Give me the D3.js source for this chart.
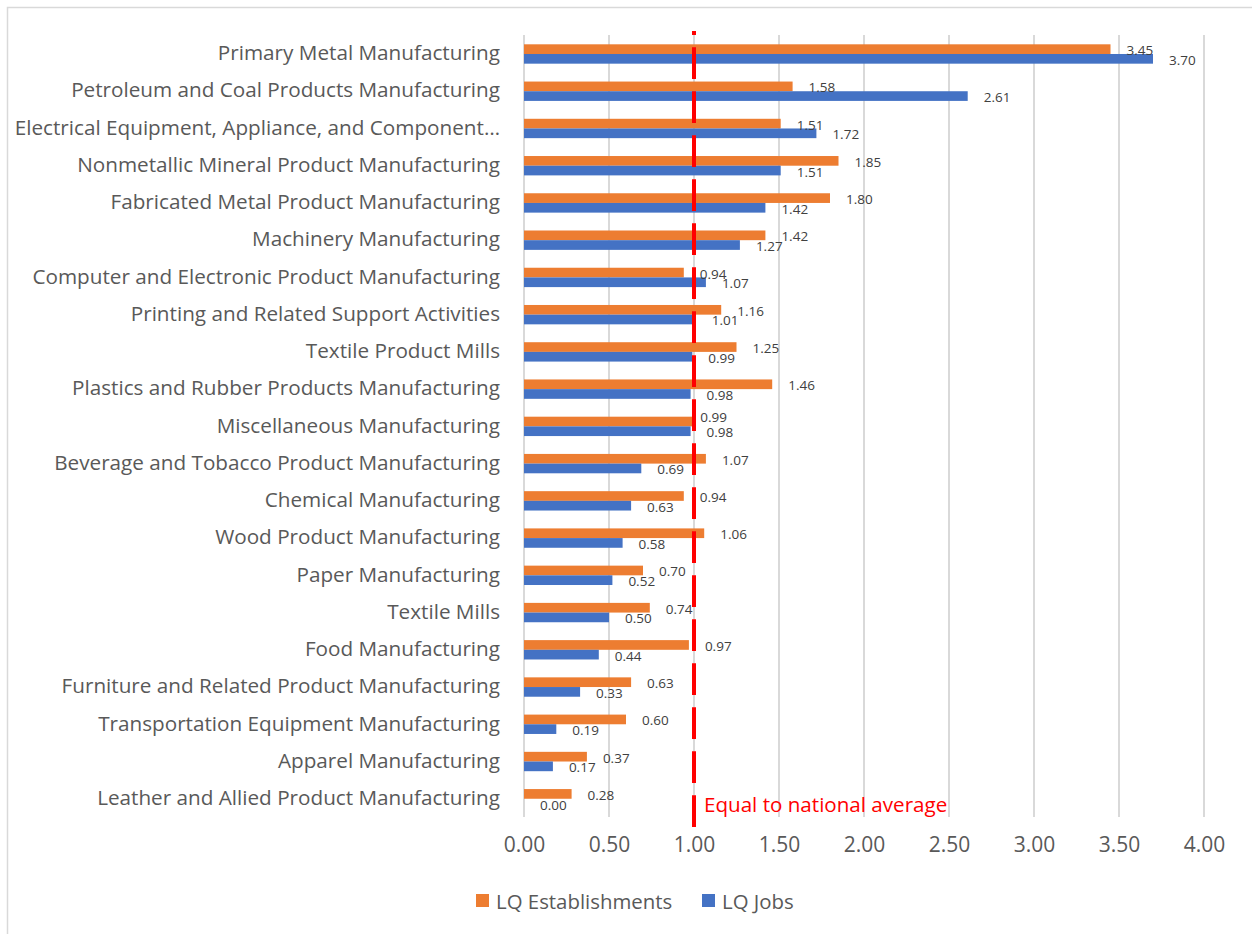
<!DOCTYPE html>
<meta charset="utf-8">
<script src="https://d3js.org/d3.v7.min.js"></script>
<style>
  body { margin: 0; background: #fff; }
  text { font-family: "Open Sans", Lato, sans-serif; }
</style>
<div id="my_dataviz"></div>
<script>

// data (top to bottom)
var categories = [
  "Primary Metal Manufacturing",
  "Petroleum and Coal Products Manufacturing",
  "Electrical Equipment, Appliance, and Component…",
  "Nonmetallic Mineral Product Manufacturing",
  "Fabricated Metal Product Manufacturing",
  "Machinery Manufacturing",
  "Computer and Electronic Product Manufacturing",
  "Printing and Related Support Activities",
  "Textile Product Mills",
  "Plastics and Rubber Products Manufacturing",
  "Miscellaneous Manufacturing",
  "Beverage and Tobacco Product Manufacturing",
  "Chemical Manufacturing",
  "Wood Product Manufacturing",
  "Paper Manufacturing",
  "Textile Mills",
  "Food Manufacturing",
  "Furniture and Related Product Manufacturing",
  "Transportation Equipment Manufacturing",
  "Apparel Manufacturing",
  "Leather and Allied Product Manufacturing"
];
var lqEstablishments = [3.45, 1.58, 1.51, 1.85, 1.80, 1.42, 0.94, 1.16, 1.25, 1.46, 0.99,
                        1.07, 0.94, 1.06, 0.70, 0.74, 0.97, 0.63, 0.60, 0.37, 0.28];
var lqJobs = [3.70, 2.61, 1.72, 1.51, 1.42, 1.27, 1.07, 1.01, 0.99, 0.98, 0.98,
              0.69, 0.63, 0.58, 0.52, 0.50, 0.44, 0.33, 0.19, 0.17, 0.00];
var seriesNames = ["LQ Establishments", "LQ Jobs"];
var xTicks = [0, 0.5, 1, 1.5, 2, 2.5, 3, 3.5, 4];
var nationalAverage = 1;

var colors = {"LQ Establishments": "#ED7D31", "LQ Jobs": "#4472C4"};

var width = 1252, height = 934;

var svg = d3.select("#my_dataviz")
  .append("svg")
    .attr("width", width)
    .attr("height", height);

// chart frame
svg.append("rect")
  .attr("x", 7.5).attr("y", 7.5)
  .attr("width", width).attr("height", height)
  .attr("fill", "none")
  .attr("stroke", "#d9d9d9")
  .attr("stroke-width", 1.5);

var x = d3.scaleLinear().domain([0, 4]).range([524, 1204]);
var y = d3.scaleBand().domain(categories).range([35, 817]);
var ySub = d3.scaleBand().domain(seriesNames)
  .range([y.bandwidth() * 0.25, y.bandwidth() * 0.77]);

// gridlines
svg.append("g")
  .selectAll("line")
  .data(xTicks)
  .enter()
  .append("line")
    .attr("x1", function(d) { return x(d); })
    .attr("x2", function(d) { return x(d); })
    .attr("y1", 35)
    .attr("y2", 817)
    .attr("stroke", "#d9d9d9")
    .attr("stroke-width", 2);

// X axis labels
var xAxis = svg.append("g")
  .attr("transform", "translate(0,837)")
  .call(d3.axisBottom(x).tickValues(xTicks).tickSize(0).tickPadding(0).tickFormat(d3.format(".2f")));
xAxis.select(".domain").remove();
xAxis.selectAll("text")
  .attr("dy", "0.71em")
  .style("font-size", "21px")
  .style("font-family", "Open Sans")
  .attr("fill", "#595959");

// Y axis labels
var yAxis = svg.append("g")
  .attr("transform", "translate(" + x(0) + ",0)")
  .call(d3.axisLeft(y).tickSize(0).tickPadding(24));
yAxis.select(".domain").remove();
yAxis.selectAll("text")
  .style("font-size", "20.7px")
  .style("font-family", "Open Sans")
  .attr("fill", "#595959");

// bars
var rows = categories.map(function(c, i) {
  return {cat: c, values: [
    {key: "LQ Establishments", value: lqEstablishments[i], cat: c},
    {key: "LQ Jobs", value: lqJobs[i], cat: c}
  ]};
});

var groups = svg.append("g")
  .selectAll("g")
  .data(rows)
  .enter()
  .append("g")
    .attr("transform", function(d) { return "translate(0," + y(d.cat) + ")"; });

groups.selectAll("rect")
  .data(function(d) { return d.values; })
  .enter()
  .append("rect")
    .attr("x", x(0))
    .attr("y", function(d) { return ySub(d.key); })
    .attr("width", function(d) { return x(d.value) - x(0); })
    .attr("height", ySub.bandwidth())
    .attr("fill", function(d) { return colors[d.key]; });

// the Miscellaneous establishments label was nudged up-left in the original
function nudged(d) {
  return d.cat === "Miscellaneous Manufacturing" && d.key === "LQ Establishments";
}

// data labels
groups.selectAll("text")
  .data(function(d) { return d.values; })
  .enter()
  .append("text")
    .attr("x", function(d) { return x(d.value) + (nudged(d) ? 8 : 16); })
    .attr("y", function(d) { return ySub(d.key) + ySub.bandwidth() / 2 + (nudged(d) ? -5 : 1); })
    .attr("dominant-baseline", "central")
    .style("font-size", "13.5px")
    .attr("fill", "#404040")
    .text(function(d) { return d3.format(".2f")(d.value); });

// national average line
svg.append("line")
  .attr("x1", x(nationalAverage)).attr("x2", x(nationalAverage))
  .attr("y1", 31).attr("y2", 827)
  .attr("stroke", "#FF0000")
  .attr("stroke-width", 4)
  .attr("stroke-dasharray", "31.7,12.3")
  .attr("stroke-dashoffset", 27.7);

svg.append("text")
  .attr("x", x(nationalAverage) + 10)
  .attr("y", 804)
  .attr("dominant-baseline", "central")
  .style("font-size", "20.6px")
  .attr("fill", "#FF0000")
  .text("Equal to national average");

// legend
var legend = svg.append("g")
  .selectAll("g")
  .data(seriesNames)
  .enter()
  .append("g")
    .attr("transform", function(d, i) { return "translate(" + [476, 702][i] + ",894)"; });

legend.append("rect")
  .attr("width", 13).attr("height", 13)
  .attr("fill", function(d) { return colors[d]; });

legend.append("text")
  .attr("x", 20)
  .attr("y", 7)
  .attr("dominant-baseline", "central")
  .style("font-size", "20.4px")
  .attr("fill", "#595959")
  .text(function(d) { return d; });

</script>
